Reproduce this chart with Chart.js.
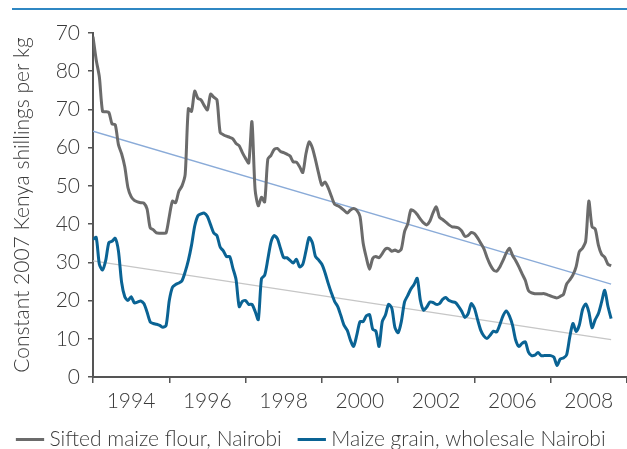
<!DOCTYPE html>
<html>
<head>
<meta charset="utf-8">
<script src="https://cdn.jsdelivr.net/npm/chart.js@4.4.1/dist/chart.umd.min.js"></script>
<style>
  html, body { margin: 0; padding: 0; background: #fff; }
</style>
</head>
<body>
<canvas id="priceChart" width="627" height="449"></canvas>
<script>
// Monthly real prices from Jan 1993, constant 2007 KSh per kg
const flourPrices = [
  89, 83, 78.5, 69.5, 69.4, 69.2, 66.2, 66, 60.8, 58.4, 55, 49.5,
  47.2, 46.2, 45.8, 45.6, 45.5, 44, 39, 38.5, 37.7, 37.6, 37.6, 37.7,
  42, 46, 45.6, 48.6, 50, 53, 70.2, 69.5, 74.8, 72.9, 72.5, 71,
  69.9, 74, 73.2, 72.5, 64, 63.4, 63, 62.7, 62.3, 61.1, 60.5, 58.7,
  57.2, 56, 66.8, 49, 44.8, 47, 45.8, 57, 58, 59.5, 59.8, 59,
  58.7, 58.3, 57.8, 56.3, 56.2, 55, 53.5, 58.4, 61.5, 60, 56.8, 53.2,
  50.2, 51, 49.5, 47.3, 45.2, 44.8, 44.3, 43.6, 42.9, 43.7, 44.1, 43.6,
  42, 35, 31.2, 28.2, 31, 31.5, 31.2, 32.3, 33.5, 33.6, 32.9, 33.2,
  32.8, 33.5, 38, 40, 43.7, 43.4, 42.5, 41.3, 40.3, 39.8, 40.8, 43,
  44.5, 41.8, 41.2, 40.5, 39.8, 39.3, 39.2, 39, 38.2, 36.8, 37, 37.8,
  37.5, 36.4, 35, 33.5, 31.2, 29.3, 28, 27.7, 28.8, 30.5, 32.4, 33.7,
  31.8, 30.4, 28.8, 27, 25.3, 22.6, 22, 21.8, 21.8, 21.8, 21.8, 21.5,
  21.2, 20.9, 20.7, 21.1, 21.6, 24.3, 25.4, 26.7, 28.9, 32.8, 33.7, 35.5,
  46, 39.3, 38.7, 34.5, 32.1, 31.3, 29.5, 29.1
];
const grainPrices = [
  36, 36.5, 29.5, 28, 30.5, 35.2, 35.5, 36.3, 33, 24.8, 21, 20,
  21, 19.4, 19.6, 19.9, 19.2, 17, 14.4, 14, 13.8, 13.5, 13, 13.5,
  20, 23.5, 24.2, 24.6, 25.2, 27.5, 30.5, 34.5, 39.5, 42.2, 42.7, 42.9,
  42, 39.8, 37.7, 37, 34, 33, 31.5, 31.5, 28.5, 25.5, 18.4, 19.8,
  20, 19, 19, 17.2, 15, 25.7, 26.6, 30.8, 35.3, 37, 36.2, 33.6,
  31.2, 31.2, 30.5, 29.8, 30.8, 28.8, 29.5, 33, 36.5, 35.2, 31.5, 30.6,
  29.5, 27.3, 24.5, 22, 19.8, 18.4, 16, 13.5, 12.2, 9.6, 8, 11,
  14.5, 14.5, 16, 16.3, 12.5, 12, 8, 14.5, 16.2, 19, 18, 12.9,
  11.6, 14.5, 19.6, 21.3, 23, 24.2, 25.8, 20, 17.5, 18.3, 19.6, 19.5,
  19, 19.2, 20.3, 20.8, 20, 19.7, 19.5, 18.5, 17.2, 15.6, 16.5, 19.2,
  18, 15, 12.2, 10.7, 10.1, 11, 12, 11.8, 13.7, 16, 17.3, 16,
  13.5, 9.6, 8, 8.8, 9.2, 6.5, 5.6, 5.7, 6.4, 5.6, 5.6, 5.6,
  5.6, 5.2, 3, 4.7, 5, 5.8, 10.5, 14, 11.9, 13.6, 17.6, 19.1,
  17, 12.9, 15, 16.6, 19.6, 22.7, 18.5, 15.3
];
// linear trend, first and last month
const flourTrend = [64.3, 24.3];
const grainTrend = [30.4, 9.8];

const yearLabels = ['1994', '1996', '1998', '2000', '2002', '2006', '2008'];
const yTickLabels = ['0', '10', '20', '30', '40', '50', '60', '70', '80', '70'];

const FONT = { family: 'Lato, "Open Sans", sans-serif', size: 21, weight: 300 };
const TEXT = '#3a3a3a';
const AXIS = '#555555';

const toPoints = arr => arr.map((v, i) => ({ x: i, y: v }));
const trendPoints = (t, n) => [{ x: 0, y: t[0] }, { x: n - 1, y: t[1] }];

// thin blue rule across the top of the figure
const topRule = {
  id: 'topRule',
  afterDraw(chart) {
    const ctx = chart.ctx;
    ctx.save();
    ctx.strokeStyle = '#2f87c3';
    ctx.lineWidth = 2;
    ctx.beginPath();
    ctx.moveTo(12, 9);
    ctx.lineTo(chart.width, 9);
    ctx.stroke();
    ctx.restore();
  }
};

new Chart(document.getElementById('priceChart'), {
  type: 'line',
  data: {
    datasets: [
      {
        label: 'Sifted maize flour, Nairobi',
        data: toPoints(flourPrices),
        borderColor: '#6b6b6b',
        borderWidth: 3,
        tension: 0.25
      },
      {
        label: 'Maize grain, wholesale Nairobi',
        data: toPoints(grainPrices),
        borderColor: '#0a6394',
        borderWidth: 3,
        tension: 0.25
      },
      {
        label: 'flour trend',
        data: trendPoints(flourTrend, flourPrices.length),
        borderColor: '#8aabd8',
        borderWidth: 1.3
      },
      {
        label: 'grain trend',
        data: trendPoints(grainTrend, grainPrices.length),
        borderColor: '#c6c6c6',
        borderWidth: 1.3
      }
    ]
  },
  options: {
    responsive: false,
    animation: false,
    layout: { autoPadding: false, padding: { left: 0, right: 0, top: 33, bottom: 0 } },
    elements: { point: { radius: 0 } },
    scales: {
      x: {
        type: 'linear',
        min: 0,
        max: 168,
        // labels sit between ticks, so no edge padding is needed
        afterFit: s => { s.height = 31; s.paddingLeft = 0; s.paddingRight = 0; },
        grid: { drawOnChartArea: false, color: AXIS, tickLength: 6, lineWidth: 1.5 },
        border: { color: AXIS, width: 2 },
        ticks: {
          stepSize: 24,
          autoSkip: false,
          maxRotation: 0,
          labelOffset: 38,
          padding: 6,
          color: TEXT,
          font: FONT,
          callback: (v, i) => yearLabels[i] || ''
        }
      },
      y: {
        min: 0,
        max: 90,
        afterFit: s => { s.width = 93; },
        grid: { drawOnChartArea: false, color: AXIS, tickLength: 5, lineWidth: 1.5 },
        border: { color: AXIS, width: 2 },
        ticks: {
          stepSize: 10,
          padding: 8,
          color: TEXT,
          font: FONT,
          callback: (v, i) => yTickLabels[i]
        },
        title: {
          display: true,
          text: 'Constant 2007 Kenya shillings per kg',
          color: TEXT,
          font: FONT,
          padding: { top: 10, bottom: 4 }
        }
      }
    },
    plugins: {
      tooltip: { enabled: false },
      legend: {
        position: 'bottom',
        align: 'start',
        maxHeight: 41,
        labels: {
          filter: item => item.datasetIndex < 2,
          usePointStyle: true,
          pointStyle: 'line',
          boxWidth: 18,
          boxHeight: 20,
          padding: 21,
          color: TEXT,
          font: FONT
        }
      }
    }
  },
  plugins: [topRule]
});
</script>
</body>
</html>
